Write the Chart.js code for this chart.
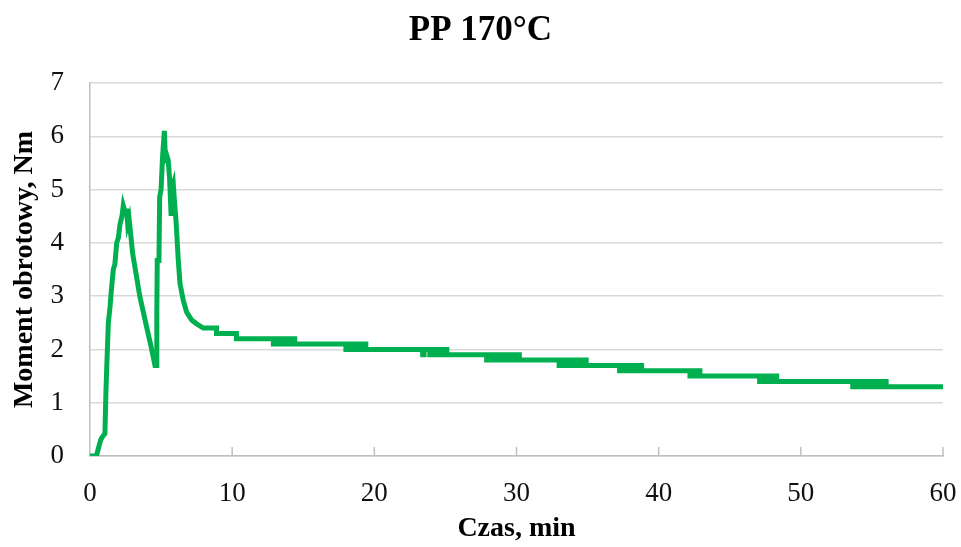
<!DOCTYPE html>
<html>
<head>
<meta charset="utf-8">
<title>PP 170°C</title>
<script src="https://cdn.jsdelivr.net/npm/chart.js@4.4.1/dist/chart.umd.min.js"></script>
<style>
  body { margin: 0; background: #fff; }
  canvas { display: block; }
</style>
</head>
<body>
<canvas id="torqueChart" width="961" height="547"></canvas>
<script>
// time in minutes and torque in Nm
// (the noisy stretches flip between two 0.1 Nm levels, typed in by hand)
let timeMin = [
    // start + first peak
    0, 0.45, 0.6, 0.75, 0.85, 1.05, 1.12, 1.17, 1.29, 1.41, 1.5, 1.64, 1.75, 1.88, 2.0, 2.11,
    2.25, 2.34, 2.45, 2.58, 2.65, 2.75, 3.0, 3.5, 4.0, 4.3, 4.57, 4.68,
    // second peak
    4.7, 4.73, 4.85, 4.9, 5.0, 5.1, 5.23, 5.3, 5.39, 5.5, 5.6, 5.7, 5.75, 5.86, 5.95,
    6.05, 6.21, 6.33, 6.56, 6.8, 7.15, 7.5, 7.97,
    // 2.4 -> 2.2
    8.9, 8.9, 10.3, 10.3,
    // 2.2 / 2.1
    12.9, 12.9, 13.1, 13.1, 13.3, 13.3, 13.5, 13.5, 13.7, 13.7, 13.9, 13.9, 14.1, 14.1,
    14.3, 14.3, 14.4, 14.4,
    // 2.1 / 2.0
    18.0, 18.0, 18.25, 18.25, 18.5, 18.5, 18.75, 18.75, 19.0, 19.0, 19.2, 19.2, 19.4, 19.4,
    // 2.0 / 1.9
    23.4, 23.4, 23.5, 23.5,
    23.9, 23.9, 24.1, 24.1, 24.3, 24.3, 24.5, 24.5, 24.7, 24.7, 24.9, 24.9, 25.1, 25.1,
    // 1.9 / 1.8
    27.9, 27.9, 28.1, 28.1, 28.3, 28.3, 28.5, 28.5, 28.7, 28.7, 28.9, 28.9, 29.1,
    29.1, 29.3, 29.3, 29.5, 29.5, 29.7, 29.7, 29.9, 29.9, 30.1, 30.1, 30.2, 30.2,
    // 1.8 / 1.7
    33.0, 33.0, 33.2, 33.2, 33.4, 33.4, 33.6, 33.6, 33.8, 33.8, 34.0,
    34.0, 34.2, 34.2, 34.4, 34.4, 34.6, 34.6, 34.8, 34.8, 34.9, 34.9,
    // 1.7 / 1.6
    37.25, 37.25, 37.35, 37.35,
    37.6, 37.6, 37.8, 37.8, 38.0, 38.0, 38.2, 38.2, 38.4, 38.4, 38.6, 38.6, 38.8, 38.8,
    // 1.6 / 1.5
    42.2, 42.2, 42.4, 42.4, 42.6, 42.6, 42.8, 42.8, 42.9, 42.9,
    // 1.5 / 1.4
    47.1, 47.1, 47.3, 47.3, 47.5, 47.5, 47.7, 47.7, 47.9, 47.9, 48.1, 48.1, 48.3, 48.3,
    // 1.4 / 1.3
    53.65, 53.65, 53.75, 53.75,
    54.0, 54.0, 54.2, 54.2, 54.4, 54.4, 54.6, 54.6, 54.8, 54.8, 55.0,
    55.0, 55.2, 55.2, 55.4, 55.4, 55.6, 55.6, 55.8, 55.8, 56.0, 56.0,
    60.0,
];

let torqueNm = [
    // start + first peak
    0, 0, 0.15, 0.3, 0.35, 0.42, 1.2, 1.6, 2.5, 2.8, 3.1, 3.5, 3.6, 4.0, 4.1, 4.35,
    4.5, 4.7, 4.6, 4.6, 4.35, 4.45, 3.8, 3.0, 2.4, 2.05, 1.7, 1.7,
    // second peak
    2.67, 3.67, 3.67, 4.86, 5.0, 5.6, 6.1, 5.6, 5.65, 5.55, 5.2, 4.55, 5.0, 5.1, 4.75,
    4.42, 3.67, 3.24, 2.92, 2.7, 2.55, 2.48, 2.4,
    // 2.4 -> 2.2
    2.4, 2.3, 2.3, 2.2,
    // 2.2 / 2.1
    2.2, 2.1, 2.1, 2.2, 2.2, 2.1, 2.1, 2.2, 2.2, 2.1, 2.1, 2.2, 2.2, 2.1,
    2.1, 2.2, 2.2, 2.1,
    // 2.1 / 2.0
    2.1, 2.0, 2.0, 2.1, 2.1, 2.0, 2.0, 2.1, 2.1, 2.0, 2.0, 2.1, 2.1, 2.0,
    // 2.0 / 1.9
    2.0, 1.9, 1.9, 2.0,
    2.0, 1.9, 1.9, 2.0, 2.0, 1.9, 1.9, 2.0, 2.0, 1.9, 1.9, 2.0, 2.0, 1.9,
    // 1.9 / 1.8
    1.9, 1.8, 1.8, 1.9, 1.9, 1.8, 1.8, 1.9, 1.9, 1.8, 1.8, 1.9, 1.9,
    1.8, 1.8, 1.9, 1.9, 1.8, 1.8, 1.9, 1.9, 1.8, 1.8, 1.9, 1.9, 1.8,
    // 1.8 / 1.7
    1.8, 1.7, 1.7, 1.8, 1.8, 1.7, 1.7, 1.8, 1.8, 1.7, 1.7,
    1.8, 1.8, 1.7, 1.7, 1.8, 1.8, 1.7, 1.7, 1.8, 1.8, 1.7,
    // 1.7 / 1.6
    1.7, 1.6, 1.6, 1.7,
    1.7, 1.6, 1.6, 1.7, 1.7, 1.6, 1.6, 1.7, 1.7, 1.6, 1.6, 1.7, 1.7, 1.6,
    // 1.6 / 1.5
    1.6, 1.5, 1.5, 1.6, 1.6, 1.5, 1.5, 1.6, 1.6, 1.5,
    // 1.5 / 1.4
    1.5, 1.4, 1.4, 1.5, 1.5, 1.4, 1.4, 1.5, 1.5, 1.4, 1.4, 1.5, 1.5, 1.4,
    // 1.4 / 1.3
    1.4, 1.3, 1.3, 1.4,
    1.4, 1.3, 1.3, 1.4, 1.4, 1.3, 1.3, 1.4, 1.4, 1.3, 1.3,
    1.4, 1.4, 1.3, 1.3, 1.4, 1.4, 1.3, 1.3, 1.4, 1.4, 1.3,
    1.3,
];

let xTicks = [0, 10, 20, 30, 40, 50, 60];
let yTicks = [0, 1, 2, 3, 4, 5, 6, 7];

let serif = "'Liberation Serif', 'Times New Roman', serif";

// small tick marks pointing up into the plot, like the original
let innerTicks = {
    id: "innerTicks",
    afterDatasetsDraw(chart) {
        let ctx = chart.ctx;
        let x = chart.scales.x;
        ctx.save();
        ctx.strokeStyle = "#BFBFBF";
        ctx.lineWidth = 1.5;
        ctx.beginPath();
        x.ticks.forEach((t) => {
            if (t.value === 0) return;
            let px = x.getPixelForValue(t.value);
            ctx.moveTo(px, x.top);
            ctx.lineTo(px, x.top - 9);
        });
        ctx.stroke();
        ctx.restore();
    },
};

let ctx = document.getElementById("torqueChart").getContext("2d");

let torqueChart = new Chart(ctx, {
    type: "scatter",
    data: {
        datasets: [
            {
                label: "PP 170°C",
                data: timeMin.map((t, i) => ({ x: t, y: torqueNm[i] })),
                showLine: true,
                borderColor: "#00B050",
                borderWidth: 5,
                pointRadius: 0,
                tension: 0,
                fill: false,
            },
        ],
    },
    plugins: [innerTicks],
    options: {
        responsive: false,
        animation: false,
        devicePixelRatio: 1,
        layout: {
            padding: { left: 0, right: 0, top: 0, bottom: 0 },
        },
        plugins: {
            legend: { display: false },
            tooltip: { enabled: false },
            title: {
                display: true,
                text: "PP 170°C",
                color: "#000",
                font: { family: serif, size: 35, weight: "bold" },
                padding: { top: 10, bottom: 31 },
            },
        },
        scales: {
            x: {
                type: "linear",
                min: 0,
                max: 60,
                afterBuildTicks: (s) => { s.ticks = xTicks.map((v) => ({ value: v })); },
                afterFit: (s) => {
                    s.height = 91;
                    // tick padding would otherwise be added to the right margin
                    s.paddingLeft = 0;
                    s.paddingRight = 18;
                },
                ticks: {
                    color: "#111",
                    padding: 22,
                    font: { family: serif, size: 27 },
                },
                grid: { display: false, drawTicks: false },
                border: { display: true, color: "#BFBFBF", width: 1.5 },
                title: {
                    display: true,
                    text: "Czas, min",
                    color: "#000",
                    font: { family: serif, size: 28, weight: "bold" },
                    padding: { top: 0, bottom: 1 },
                },
            },
            y: {
                min: 0,
                max: 7,
                afterBuildTicks: (s) => { s.ticks = yTicks.map((v) => ({ value: v })); },
                afterFit: (s) => { s.width = 90; },
                ticks: {
                    color: "#111",
                    padding: 26,
                    font: { family: serif, size: 27 },
                },
                grid: {
                    color: "#D9D9D9",
                    lineWidth: 1.5,
                    drawTicks: false,
                },
                border: { display: true, color: "#BFBFBF", width: 1.5 },
                title: {
                    display: true,
                    text: "Moment obrotowy, Nm",
                    color: "#000",
                    font: { family: serif, size: 28, weight: "bold" },
                    padding: { top: 8, bottom: 0 },
                },
            },
        },
    },
});
</script>
</body>
</html>
